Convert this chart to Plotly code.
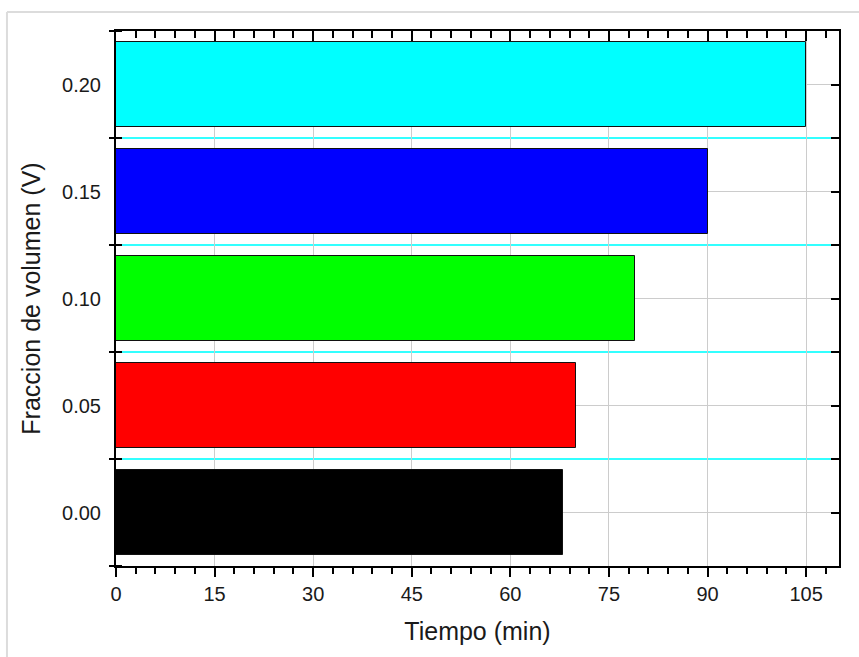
import plotly.graph_objects as go

# Data
fractions = [0.00, 0.05, 0.10, 0.15, 0.20]
tiempos = [68, 70, 79, 90, 105]
bar_colors = ["#000000", "#ff0000", "#00ff00", "#0000ff", "#00ffff"]

x_title = "Tiempo (min)"
y_title = "Fraccion de volumen (V)"

FONT = "Liberation Sans, Arial, sans-serif"
TXT = "#1a1a1a"

fig = go.Figure()
fig.add_trace(go.Bar(
    x=tiempos, y=fractions, orientation="h", width=0.04,
    marker=dict(color=bar_colors, line=dict(color="#111111", width=1)),
    showlegend=False, hoverinfo="x+y",
))
# invisible helper traces to anchor mirrored axes
fig.add_trace(go.Scatter(x=tiempos, y=fractions, mode="markers",
                         marker=dict(opacity=0), showlegend=False, hoverinfo="skip",
                         xaxis="x2", yaxis="y2"))
fig.add_trace(go.Scatter(x=tiempos, y=fractions, mode="markers",
                         marker=dict(opacity=0), showlegend=False, hoverinfo="skip",
                         xaxis="x", yaxis="y3"))

xr = [0, 110]
yr = [-0.025, 0.225]

fig.update_layout(
    width=859, height=657,
    margin=dict(l=116, r=20, t=31, b=91),
    paper_bgcolor="white", plot_bgcolor="white",
    font=dict(family=FONT, color=TXT),
    bargap=0,
    xaxis=dict(
        range=xr, autorange=False, tickmode="linear", tick0=0, dtick=15,
        ticks="outside", ticklen=9, tickwidth=2, tickcolor="black",
        minor=dict(dtick=3, tick0=0, ticks="outside", ticklen=6, tickwidth=2,
                   tickcolor="black", showgrid=False),
        showgrid=True, gridcolor="#cccccc", gridwidth=1,
        showline=True, linecolor="black", linewidth=2, zeroline=False,
        tickfont=dict(size=20, color=TXT, family=FONT),
        title=dict(text=x_title, font=dict(size=25, color=TXT, family=FONT), standoff=18),
    ),
    xaxis2=dict(
        range=xr, autorange=False, overlaying="x", side="top", anchor="y2",
        tickmode="linear", tick0=0, dtick=15,
        ticks="inside", ticklen=10, tickwidth=2, tickcolor="black",
        minor=dict(dtick=3, tick0=0, ticks="inside", ticklen=7, tickwidth=2,
                   tickcolor="black", showgrid=False),
        showticklabels=False, showgrid=False, zeroline=False,
        showline=True, linecolor="black", linewidth=2,
    ),
    yaxis=dict(
        range=yr, autorange=False, tickmode="linear", tick0=0, dtick=0.05,
        tickformat=".2f",
        ticks="outside", ticklen=9, tickcolor="rgba(0,0,0,0)",
        minor=dict(dtick=0.025, tick0=0, ticks="outside", ticklen=5, tickwidth=2,
                   tickcolor="black", showgrid=True, gridcolor="#33ffff", gridwidth=1.5),
        showgrid=True, gridcolor="#cccccc", gridwidth=1,
        showline=True, linecolor="black", linewidth=2, zeroline=False,
        tickfont=dict(size=20, color=TXT, family=FONT),
        title=dict(text=y_title, font=dict(size=25, color=TXT, family=FONT), standoff=14),
    ),
    yaxis2=dict(
        range=yr, autorange=False, overlaying="y", side="right", anchor="x2",
        tickmode="linear", tick0=0, dtick=0.05,
        ticks="inside", ticklen=8, tickwidth=2, tickcolor="black",
        minor=dict(dtick=0.025, tick0=0, ticks="inside", ticklen=8, tickwidth=2,
                   tickcolor="black", showgrid=False),
        showticklabels=False, showgrid=False, zeroline=False,
        showline=True, linecolor="black", linewidth=2,
    ),
    yaxis3=dict(
        range=yr, autorange=False, overlaying="y", side="left", anchor="x",
        tickmode="linear", tick0=0, dtick=0.05,
        ticks="",
        minor=dict(dtick=0.025, tick0=0, ticks="inside", ticklen=6, tickwidth=2,
                   tickcolor="black", showgrid=False),
        showticklabels=False, showgrid=False, zeroline=False, showline=False,
    ),
    shapes=[
        dict(type="line", xref="paper", yref="paper",
             x0=-0.1508, x1=-0.1508, y0=-0.25, y1=1.0355,
             line=dict(color="#dcdcdc", width=2)),
        dict(type="line", xref="paper", yref="paper",
             x0=-0.1508, x1=1.1, y0=1.0355, y1=1.0355,
             line=dict(color="#dcdcdc", width=2)),
    ],
)

fig.write_html("out.html")
